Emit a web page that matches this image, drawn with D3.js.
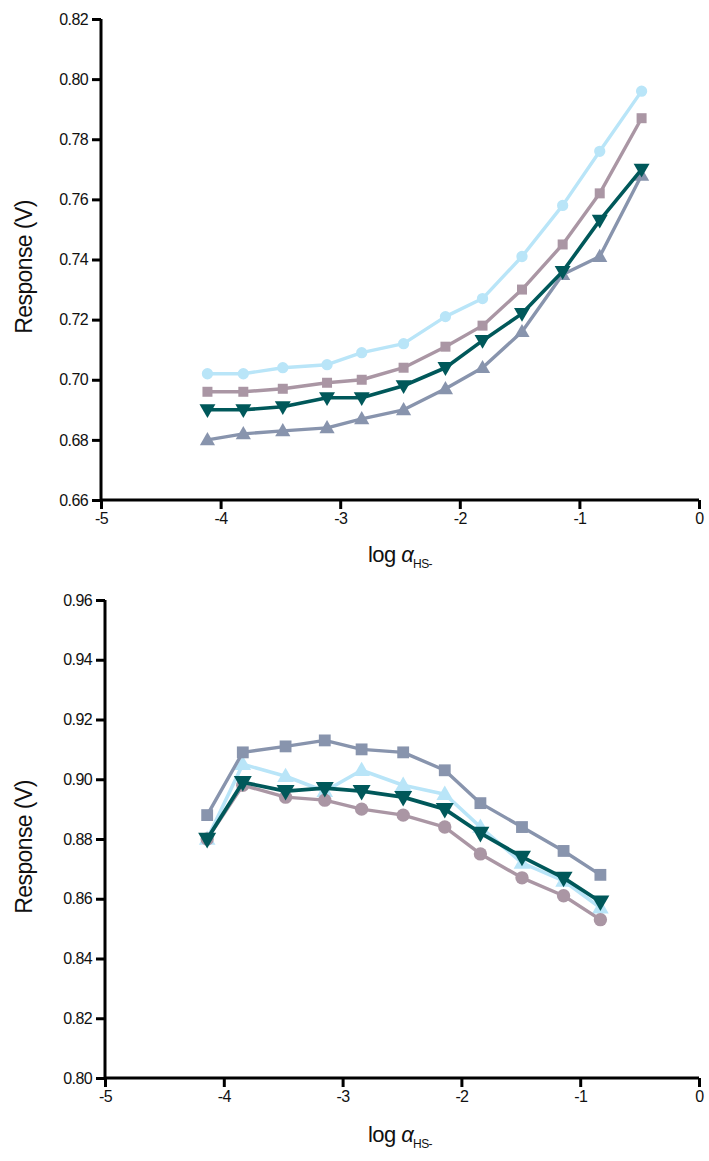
<!DOCTYPE html>
<html>
<head>
<meta charset="utf-8">
<script src="https://cdn.jsdelivr.net/npm/d3@7"></script>
<style>
  html, body { margin: 0; padding: 0; background: #fff; }
  svg { display: block; }
  text { font-family: "Liberation Sans", Arial, sans-serif; fill: #111; }
</style>
</head>
<body>
<svg id="chart" width="709" height="1161"></svg>
<script>
// ---------- data ----------
const xTicks = [-5, -4, -3, -2, -1, 0];
const topYTicks = [0.66, 0.68, 0.70, 0.72, 0.74, 0.76, 0.78, 0.80, 0.82];
const bottomYTicks = [0.80, 0.82, 0.84, 0.86, 0.88, 0.90, 0.92, 0.94, 0.96];

const topX = [-4.11, -3.81, -3.48, -3.11, -2.82, -2.47, -2.12, -1.81, -1.48, -1.14, -0.83, -0.48];
const topLightBlue = [0.702, 0.702, 0.704, 0.705, 0.709, 0.712, 0.721, 0.727, 0.741, 0.758, 0.776, 0.796];
const topMauve     = [0.696, 0.696, 0.697, 0.699, 0.700, 0.704, 0.711, 0.718, 0.730, 0.745, 0.762, 0.787];
const topTeal      = [0.690, 0.690, 0.691, 0.694, 0.694, 0.698, 0.704, 0.713, 0.722, 0.736, 0.753, 0.770];
const topGrey      = [0.680, 0.682, 0.683, 0.684, 0.687, 0.690, 0.697, 0.704, 0.716, 0.735, 0.741, 0.768];

const bottomX = [-4.14, -3.84, -3.48, -3.15, -2.84, -2.49, -2.14, -1.84, -1.49, -1.14, -0.83];
const bottomGrey      = [0.888, 0.909, 0.911, 0.913, 0.910, 0.909, 0.903, 0.892, 0.884, 0.876, 0.868];
const bottomLightBlue = [0.880, 0.905, 0.901, 0.896, 0.903, 0.898, 0.895, 0.884, 0.872, 0.866, 0.857];
const bottomMauve     = [0.880, 0.898, 0.894, 0.893, 0.890, 0.888, 0.884, 0.875, 0.867, 0.861, 0.853];
const bottomTeal      = [0.880, 0.899, 0.896, 0.897, 0.896, 0.894, 0.890, 0.882, 0.874, 0.867, 0.859];

const C = { lightBlue: "#b9e5f8", mauve: "#aa96a4", grey: "#8894ad", teal: "#00585a" };

const svg = d3.select("#chart");

function drawPanel(cfg) {
  const x = d3.scaleLinear().domain([-5, 0]).range([cfg.left, 699]);
  const y = d3.scaleLinear().domain(cfg.yDomain).range([cfg.bottom, cfg.top]);
  const g = svg.append("g");

  // series
  cfg.series.forEach(s => {
    const pts = cfg.xs.map((xv, i) => [xv, s.values[i]]);
    g.append("path")
      .attr("d", d3.line().x(d => x(d[0])).y(d => y(d[1]))(pts))
      .attr("fill", "none").attr("stroke", s.color)
      .attr("stroke-width", s.width).attr("stroke-linejoin", "round");
    const sym = d3.symbol().type(s.symbol).size(s.size);
    g.selectAll(null).data(pts).enter().append("path")
      .attr("d", sym)
      .attr("transform", d => `translate(${x(d[0])},${y(d[1]) + (s.dy || 0)}) rotate(${s.rotate || 0})`)
      .attr("fill", s.color);
  });

  // y axis
  const ya = g.append("g").attr("transform", `translate(${cfg.left},0)`)
    .call(d3.axisLeft(y).tickValues(cfg.yTicks).tickFormat(d3.format(".2f")).tickSize(9).tickPadding(4));
  // x axis
  const xa = g.append("g").attr("transform", `translate(0,${cfg.bottom})`)
    .call(d3.axisBottom(x).tickValues(xTicks).tickFormat(d => d === 0 ? "0" : String(d)).tickSize(9).tickPadding(4));
  [ya, xa].forEach(a => {
    a.select(".domain").attr("stroke", "#000").attr("stroke-width", 3);
    a.selectAll(".tick line").attr("stroke", "#000").attr("stroke-width", 3);
    a.selectAll(".tick text").attr("font-size", 16).attr("fill", "#222")
      .attr("font-family", "'Liberation Sans', Arial, sans-serif").style("letter-spacing", "-0.6px");
  });
  ya.select(".domain").attr("d", `M0,${cfg.top}V${cfg.bottom}`);
  xa.select(".domain").attr("d", `M${cfg.left},0H699`);

  // y label
  g.append("text")
    .attr("transform", `translate(${cfg.yLabelX},${cfg.yLabelY}) rotate(-90)`)
    .attr("text-anchor", "middle").attr("font-size", 23).style("letter-spacing", "-0.6px")
    .text("Response (V)");

  // x label
  const xl = g.append("text")
    .attr("x", 400).attr("y", cfg.xLabelY)
    .attr("text-anchor", "middle").attr("font-size", 22).style("letter-spacing", "-0.6px");
  xl.append("tspan").text("log ");
  xl.append("tspan").attr("font-style", "italic").text("α");
  xl.append("tspan").attr("font-size", 12).attr("dy", 6).text("HS-");
}

drawPanel({
  left: 101, top: 19, bottom: 500, yDomain: [0.66, 0.82], yTicks: topYTicks,
  xs: topX, yLabelX: 32, yLabelY: 267, xLabelY: 562,
  series: [
    { values: topLightBlue, color: C.lightBlue, symbol: d3.symbolCircle, size: 100, width: 3.4 },
    { values: topMauve, color: C.mauve, symbol: d3.symbolSquare, size: 100, width: 3.4 },
    { values: topGrey, color: C.grey, symbol: d3.symbolTriangle, size: 100, width: 3.4, dy: 1 },
    { values: topTeal, color: C.teal, symbol: d3.symbolTriangle, size: 110, width: 3.6, rotate: 180, dy: -1 }
  ]
});

drawPanel({
  left: 105, top: 600, bottom: 1078, yDomain: [0.80, 0.96], yTicks: bottomYTicks,
  xs: bottomX, yLabelX: 32, yLabelY: 847, xLabelY: 1142,
  series: [
    { values: bottomLightBlue, color: C.lightBlue, symbol: d3.symbolTriangle, size: 120, width: 3.6, dy: 1 },
    { values: bottomMauve, color: C.mauve, symbol: d3.symbolCircle, size: 140, width: 3.4 },
    { values: bottomGrey, color: C.grey, symbol: d3.symbolSquare, size: 140, width: 3.4 },
    { values: bottomTeal, color: C.teal, symbol: d3.symbolTriangle, size: 140, width: 3.8, rotate: 180, dy: -1 }
  ]
});
</script>
</body>
</html>
